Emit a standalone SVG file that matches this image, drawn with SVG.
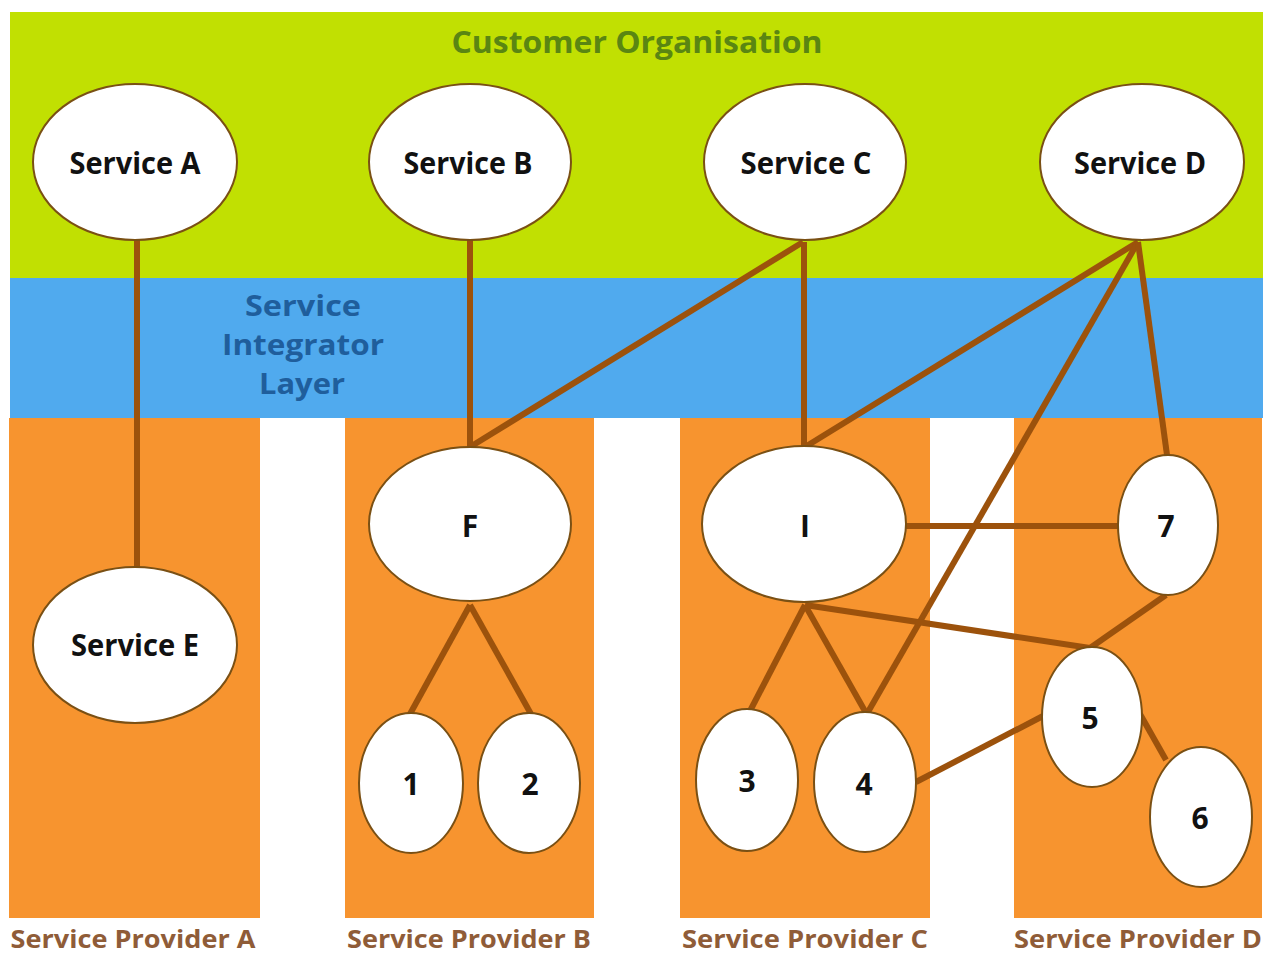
<svg xmlns="http://www.w3.org/2000/svg" width="1266" height="954" viewBox="0 0 1266 954">
  <style>
    .lbl { font-family: "Open Sans", "Liberation Sans", sans-serif; font-weight: 700; fill: #111111; text-anchor: middle; font-size: 30px; }
    .prov { font-family: "Open Sans", "Liberation Sans", sans-serif; font-weight: 700; fill: #8f5c38; text-anchor: middle; font-size: 25px; }
    .layer { font-family: "Open Sans", "Liberation Sans", sans-serif; font-weight: 700; text-anchor: middle; font-size: 30px; }
    .sil { font-family: "Open Sans", "Liberation Sans", sans-serif; font-weight: 700; text-anchor: middle; font-size: 28px; fill: #1f5e9c; }
    .node { fill: #ffffff; stroke: #7a5014; stroke-width: 2; }
    .conn { stroke: #9c520c; stroke-width: 6; fill: none; stroke-linecap: butt; }
  </style>
  <rect x="0" y="0" width="1266" height="954" fill="#ffffff"/>
  <g id="backgrounds">
    <rect x="10" y="12" width="1253" height="266" fill="#c1e002"/>
    <rect x="10" y="278" width="1253" height="140" fill="#50aaee"/>
    <rect x="9" y="418" width="251" height="500" fill="#f7942f"/>
    <rect x="345" y="418" width="249" height="500" fill="#f7942f"/>
    <rect x="680" y="418" width="250" height="500" fill="#f7942f"/>
    <rect x="1014" y="418" width="248" height="500" fill="#f7942f"/>
  </g>
  <g id="layer-labels">
    <text class="layer" x="637" y="53" fill="#5a8612" textLength="371" lengthAdjust="spacingAndGlyphs">Customer Organisation</text>
    <text class="sil" x="303" y="316" textLength="116" lengthAdjust="spacingAndGlyphs">Service</text>
    <text class="sil" x="303" y="355" textLength="162" lengthAdjust="spacingAndGlyphs">Integrator</text>
    <text class="sil" x="302" y="394" textLength="86" lengthAdjust="spacingAndGlyphs">Layer</text>
    <text class="prov" x="133" y="948" textLength="245" lengthAdjust="spacingAndGlyphs">Service Provider A</text>
    <text class="prov" x="469" y="948" textLength="244" lengthAdjust="spacingAndGlyphs">Service Provider B</text>
    <text class="prov" x="805" y="948" textLength="246" lengthAdjust="spacingAndGlyphs">Service Provider C</text>
    <text class="prov" x="1138" y="948" textLength="248" lengthAdjust="spacingAndGlyphs">Service Provider D</text>
  </g>
  <g id="connectors">
    <line class="conn" x1="137" y1="240" x2="137" y2="567"/>
    <line class="conn" x1="470" y1="240" x2="470" y2="447"/>
    <line class="conn" x1="803" y1="242" x2="470" y2="447"/>
    <line class="conn" x1="804" y1="242" x2="804" y2="447"/>
    <line class="conn" x1="1138" y1="242" x2="805" y2="447"/>
    <line class="conn" x1="1138" y1="242" x2="868" y2="712"/>
    <line class="conn" x1="1138" y1="242" x2="1167" y2="455"/>
    <line class="conn" x1="470" y1="605" x2="410" y2="714"/>
    <line class="conn" x1="470" y1="605" x2="531" y2="714"/>
    <line class="conn" x1="805" y1="605" x2="750" y2="711"/>
    <line class="conn" x1="805" y1="605" x2="866" y2="713"/>
    <line class="conn" x1="805" y1="605" x2="1090" y2="648"/>
    <line class="conn" x1="905" y1="526" x2="1118" y2="526"/>
    <line class="conn" x1="1166" y1="595" x2="1090" y2="648"/>
    <line class="conn" x1="916" y1="782" x2="1043" y2="716"/>
    <line class="conn" x1="1140" y1="714" x2="1166" y2="760"/>
  </g>
  <g id="node-service-a">
    <ellipse class="node" cx="135" cy="162" rx="102" ry="78"/>
    <text class="lbl" x="135" y="174" textLength="131" lengthAdjust="spacingAndGlyphs">Service A</text>
  </g>
  <g id="node-service-b">
    <ellipse class="node" cx="470" cy="162" rx="101" ry="78"/>
    <text class="lbl" x="468" y="174" textLength="129" lengthAdjust="spacingAndGlyphs">Service B</text>
  </g>
  <g id="node-service-c">
    <ellipse class="node" cx="805" cy="162" rx="101" ry="78"/>
    <text class="lbl" x="806" y="174" textLength="131" lengthAdjust="spacingAndGlyphs">Service C</text>
  </g>
  <g id="node-service-d">
    <ellipse class="node" cx="1142" cy="162" rx="102" ry="78"/>
    <text class="lbl" x="1140" y="174" textLength="132" lengthAdjust="spacingAndGlyphs">Service D</text>
  </g>
  <g id="node-service-e">
    <ellipse class="node" cx="135" cy="645" rx="102" ry="78"/>
    <text class="lbl" x="135" y="656" textLength="128" lengthAdjust="spacingAndGlyphs">Service E</text>
  </g>
  <g id="node-f">
    <ellipse class="node" cx="470" cy="524" rx="101" ry="77"/>
    <text class="lbl" x="470" y="537">F</text>
  </g>
  <g id="node-1">
    <ellipse class="node" cx="411" cy="783" rx="52" ry="70"/>
    <text class="lbl" x="411" y="795">1</text>
  </g>
  <g id="node-2">
    <ellipse class="node" cx="529" cy="783" rx="51" ry="70"/>
    <text class="lbl" x="530" y="795">2</text>
  </g>
  <g id="node-i">
    <ellipse class="node" cx="804" cy="524" rx="102" ry="78"/>
    <text class="lbl" x="805" y="537">I</text>
  </g>
  <g id="node-3">
    <ellipse class="node" cx="747" cy="780" rx="51" ry="71"/>
    <text class="lbl" x="747" y="792">3</text>
  </g>
  <g id="node-4">
    <ellipse class="node" cx="865" cy="782" rx="51" ry="70"/>
    <text class="lbl" x="864" y="795">4</text>
  </g>
  <g id="node-7">
    <ellipse class="node" cx="1168" cy="525" rx="50" ry="70"/>
    <text class="lbl" x="1166" y="537">7</text>
  </g>
  <g id="node-5">
    <ellipse class="node" cx="1092" cy="717" rx="50" ry="70"/>
    <text class="lbl" x="1090" y="729">5</text>
  </g>
  <g id="node-6">
    <ellipse class="node" cx="1201" cy="817" rx="51" ry="70"/>
    <text class="lbl" x="1200" y="829">6</text>
  </g>
</svg>
